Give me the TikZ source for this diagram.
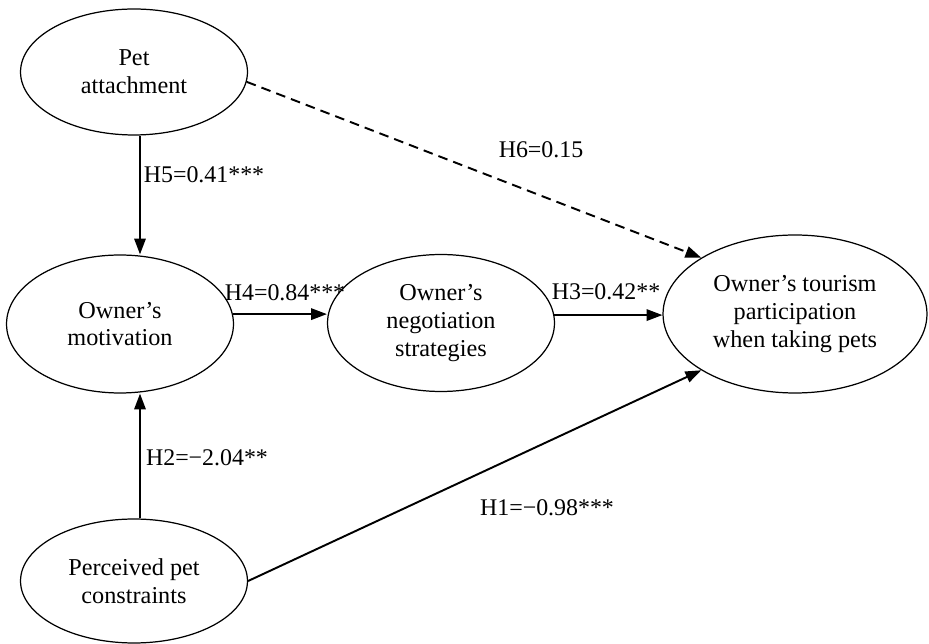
\documentclass[tikz,border=0pt]{standalone}
\usepackage{fontspec}
\setmainfont{Liberation Serif}
\usetikzlibrary{arrows.meta,shapes.geometric}

\begin{document}
\begin{tikzpicture}[x=0.02cm, y=-0.02cm,
  construct/.style={draw, ellipse, line width=0.7pt, align=center,
    inner sep=0pt, minimum width=4.54cm, minimum height=2.62cm,
    font=\fontsize{13.8}{15.8}\selectfont},
  link/.style={line width=1.1pt, line join=round,
    -{Triangle[length=9pt, width=6.5pt]}},
  coef/.style={inner sep=0pt, font=\fontsize{13.6}{16}\selectfont}]

  \useasboundingbox (0,0) rectangle (929,644);

  % Constructs
  \node [construct, minimum height=2.52cm] (pet) at (134,72) {Pet\\attachment};
  \node [construct, minimum height=2.76cm] (motiv) at (120,324) {Owner's\\motivation};
  \node [construct, minimum height=2.74cm] (nego) at (441,323)
    {Owner's\\negotiation\\strategies};
  \node [construct, minimum width=5.28cm, minimum height=3.16cm] (tour) at (795,314)
    {Owner's tourism\\participation\\when taking pets};
  \node [construct, minimum height=2.48cm] (perc) at (134,581)
    {Perceived pet\\constraints};

  % Paths
  \draw [link] ([xshift=0.12cm]pet.south) -- ([xshift=0.12cm]pet.south |- motiv.north);
  \draw [link] ([xshift=0.12cm]perc.north) -- ([xshift=0.12cm]perc.north |- motiv.south);
  \draw [link] (motiv.5) -- (motiv.5 -| nego.west);
  \draw [link] (nego.4) -- (nego.4 -| tour.west);
  \draw [link] (perc.east) -- (tour.south west);
  \draw [link, dash pattern=on 5.5pt off 3.5pt] (pet.-5) -- (tour.north west);

  % Coefficients
  \node [coef] (h5) at (204,175) {H5=0.41***};
  \node [coef] (h4) at (285,293) {H4=0.84***};
  \node [coef] (h3) at (606,292) {H3=0.42**};
  \node [coef] (h6) at (541,150) {H6=0.15};
  \node [coef] (h2) at (207,458) {H2=−2.04**};
  \node [coef] (h1) at (547,508) {H1=−0.98***};

\end{tikzpicture}
\end{document}
